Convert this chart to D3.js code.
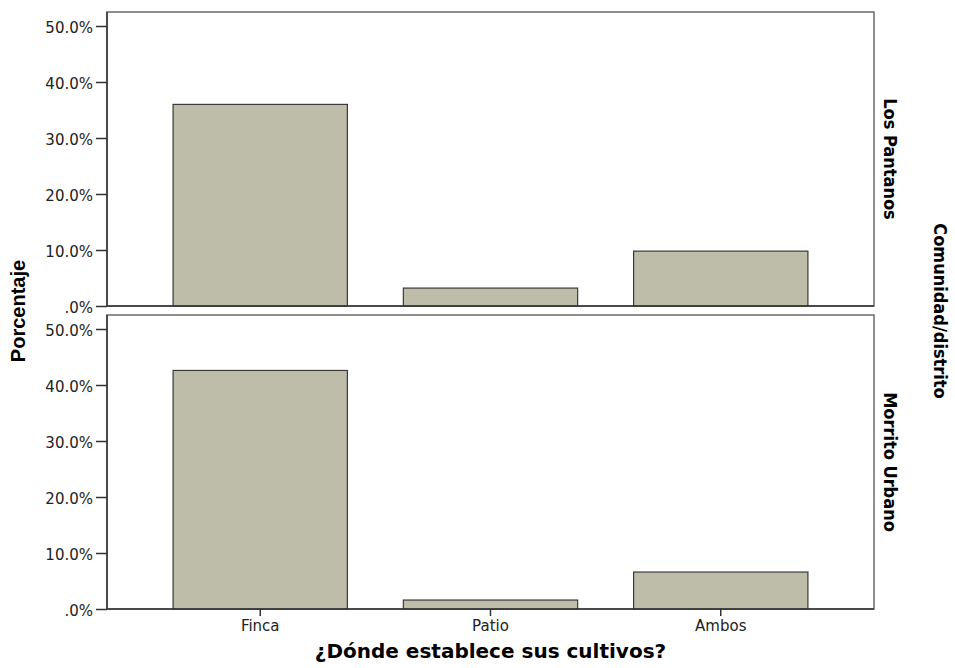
<!DOCTYPE html>
<html lang="es">
<head>
  <meta charset="UTF-8">
  <title>¿Dónde establece sus cultivos?</title>
  <script src="https://d3js.org/d3.v7.min.js"></script>
  <style>
    body { margin: 0; background: #fff; }
    svg { display: block; }
    .tick text { fill: #222; }
  </style>
</head>
<body>
  <div id="chart"></div>
  <script>
    const categories = ["Finca", "Patio", "Ambos"];
    const panels = ["Los Pantanos", "Morrito Urbano"];
    const losPantanos = [36.0, 3.2, 9.8];
    const morritoUrbano = [42.6, 1.6, 6.6];
    const yTicks = [0, 10, 20, 30, 40, 50];
    const series = [losPantanos, morritoUrbano];

    const width = 955, height = 668;
    const left = 107, right = 874;
    const panelBoxes = [
      { top: 12, bottom: 306 },
      { top: 315, bottom: 609 }
    ];

    const svg = d3.select("#chart").append("svg")
      .attr("width", width)
      .attr("height", height);

    const x = d3.scaleBand()
      .domain(categories)
      .range([left, right])
      .paddingInner(0.243)
      .paddingOuter(0.287);

    panels.forEach((name, i) => {
      const box = panelBoxes[i];
      const y = d3.scaleLinear()
        .domain([0, 50])
        .range([box.bottom, box.bottom - 280]);

      const g = svg.append("g");

      g.append("rect")
        .attr("x", left)
        .attr("y", box.top)
        .attr("width", right - left)
        .attr("height", box.bottom - box.top)
        .attr("fill", "#fff")
        .attr("stroke", "#6a6a6a")
        .attr("stroke-width", 1.5);

      g.selectAll("rect.bar")
        .data(series[i])
        .enter().append("rect")
          .attr("class", "bar")
          .attr("x", (d, j) => x(categories[j]))
          .attr("y", d => y(d))
          .attr("width", x.bandwidth())
          .attr("height", d => y(0) - y(d))
          .attr("fill", "#bebdaa")
          .attr("stroke", "#3a3a3a")
          .attr("stroke-width", 1.2);

      const yAxis = g.append("g")
        .attr("transform", `translate(${left},0)`)
        .call(d3.axisLeft(y)
          .tickValues(yTicks)
          .tickSize(11)
          .tickPadding(3)
          .tickFormat(d => d === 0 ? ".0%" : d.toFixed(1) + "%"));
      yAxis.select(".domain").attr("stroke", "#333").attr("stroke-width", 1.5)
        .attr("d", `M0,${box.top}V${box.bottom}`);
      yAxis.selectAll(".tick line").attr("stroke", "#333").attr("stroke-width", 1.5);
      yAxis.selectAll("text")
        .attr("font-family", "'DejaVu Sans', Verdana, sans-serif")
        .attr("font-size", 15)
        .attr("dy", "0.4em");

      g.append("line")
        .attr("x1", left).attr("x2", right)
        .attr("y1", box.bottom).attr("y2", box.bottom)
        .attr("stroke", "#333").attr("stroke-width", 1.5);

      g.append("text")
        .attr("transform", `translate(890,${(box.top + box.bottom) / 2}) rotate(90)`)
        .attr("text-anchor", "middle")
        .attr("dy", "0.35em")
        .attr("font-family", "'DejaVu Sans Condensed', 'DejaVu Sans', sans-serif")
        .attr("font-weight", "bold")
        .attr("font-size", 18)
        .text(name);
    });

    const xAxis = svg.append("g")
      .attr("transform", `translate(0,${panelBoxes[1].bottom})`)
      .call(d3.axisBottom(x).tickSize(7).tickPadding(4));
    xAxis.select(".domain").remove();
    xAxis.selectAll(".tick line").attr("stroke", "#333").attr("stroke-width", 1.5);
    xAxis.selectAll("text")
      .attr("font-family", "'DejaVu Sans', Arial, sans-serif")
      .attr("font-size", 15);

    svg.append("text")
      .attr("x", x("Patio") + x.bandwidth() / 2)
      .attr("y", 658)
      .attr("text-anchor", "middle")
      .attr("font-family", "'DejaVu Sans', Verdana, sans-serif")
      .attr("font-weight", "bold")
      .attr("font-size", 20)
      .text("¿Dónde establece sus cultivos?");

    svg.append("text")
      .attr("transform", "translate(18,311) rotate(-90)")
      .attr("text-anchor", "middle")
      .attr("dy", "0.35em")
      .attr("font-family", "'Liberation Sans', Arial, sans-serif")
      .attr("font-weight", "bold")
      .attr("font-size", 20)
      .text("Porcentaje");

    svg.append("text")
      .attr("transform", "translate(940,311) rotate(90)")
      .attr("text-anchor", "middle")
      .attr("dy", "0.35em")
      .attr("font-family", "'DejaVu Sans Condensed', 'DejaVu Sans', sans-serif")
      .attr("font-weight", "bold")
      .attr("font-size", 18)
      .text("Comunidad/distrito");
  </script>
</body>
</html>
